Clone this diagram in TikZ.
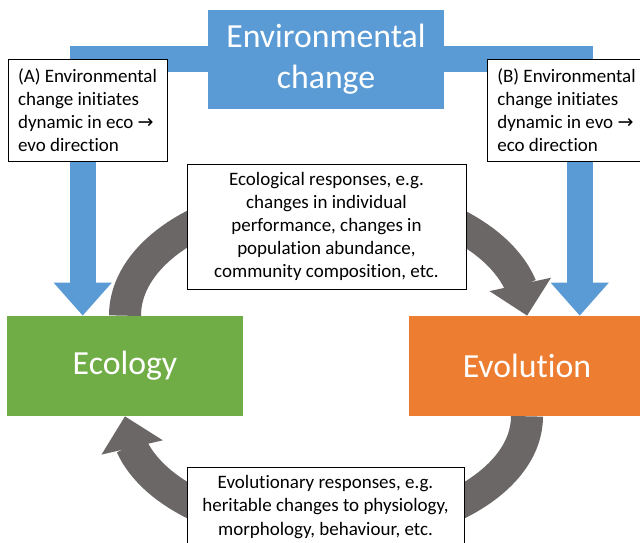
\documentclass[tikz,border=0pt]{standalone}
\usepackage{fontspec}
\setmainfont{Carlito}[Ligatures={NoCommon}]
\newfontfamily\arrowfont{DejaVu Sans}
\usetikzlibrary{arrows.meta,bending,backgrounds,positioning}

\definecolor{envblue}{HTML}{5B9BD5}
\definecolor{ecogreen}{HTML}{70AD47}
\definecolor{evoorange}{HTML}{ED7D31}
\definecolor{loopgrey}{HTML}{6B6766}

\tikzset{
  bigbox/.style={rectangle,text=white,minimum width=5.9cm,minimum height=2.5cm,align=center,font=\fontsize{24}{29}\selectfont},
  notebox/.style={rectangle,draw=black,fill=white,line width=0.6pt,font=\fontsize{13.5}{16.5}\selectfont},
  envarrow/.style={draw=envblue,line width=0.65cm,line join=miter,-{Triangle[width=1.4cm,length=0.825cm]}},
  looparrow/.style={draw=loopgrey,line width=0.8cm,-{Triangle[width=1.525cm,length=0.8cm,flex]}},
}

\begin{document}
\begin{tikzpicture}[x=0.025cm,y=0.025cm]
\clip (0,0) rectangle (640,543);
\node[bigbox,fill=envblue,minimum height=2.475cm] (env) at (326,483.5) {Environmental\\change};
\node[bigbox,fill=ecogreen] (eco) at (125,177) {Ecology};
\node[bigbox,fill=evoorange] (evo) at (527,177) {Evolution};

\node[notebox,minimum width=3.975cm,minimum height=2.55cm,align=left] (noteA) at (87.5,433) {(A) Environmental\\change initiates\\dynamic in eco {\arrowfont →}\\evo direction};
\node[notebox,minimum width=3.975cm,minimum height=2.55cm,align=left] (noteB) at (566.5,433) {(B) Environmental\\change initiates\\dynamic in evo {\arrowfont →}\\eco direction};
\node[notebox,minimum width=6.975cm,minimum height=3.125cm,align=center] (ecoresp) at (326.5,316.5) {Ecological responses, e.g.\\changes in individual\\performance, changes in\\population abundance,\\community composition, etc.};
\node[notebox,minimum width=6.925cm,minimum height=2cm,align=center] (evoresp) at (325.5,36) {Evolutionary responses, e.g.\\heritable changes to physiology,\\morphology, behaviour, etc.};

\begin{scope}[on background layer]
\draw[looparrow] (eco.north) arc[start angle=180,end angle=0,x radius=5.025cm,y radius=3cm];
\draw[looparrow] (evo.south) arc[start angle=0,end angle=-180,x radius=5.025cm,y radius=2.9cm];
\draw[envarrow] (env.west) -| ([xshift=1.9cm]eco.north west);
\draw[envarrow] (env.east) -| ([xshift=4.275cm]evo.north west);
\end{scope}

\end{tikzpicture}
\end{document}
